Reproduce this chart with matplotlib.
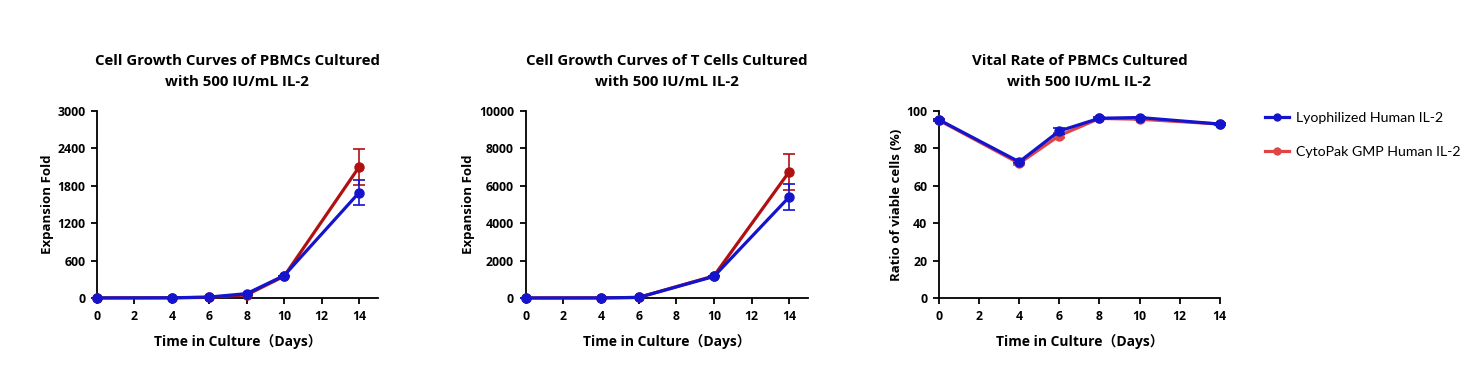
import numpy as np
import matplotlib.pyplot as plt
from matplotlib.lines import Line2D

# =============================================================================
# DATA
# =============================================================================

days = [0, 4, 6, 8, 10, 14]

# PBMC expansion fold
pbmc_lyo = [1, 3, 15, 70, 360, 1690]
pbmc_lyo_err = [0, 0, 0, 0, 0, 200]
pbmc_gmp = [1, 3, 10, 50, 350, 2100]
pbmc_gmp_err = [0, 0, 0, 0, 0, 290]

# T cell expansion fold
tcell_days = [0, 4, 6, 10, 14]
tcell_lyo = [1, 5, 30, 1150, 5400]
tcell_lyo_err = [0, 0, 0, 0, 670]
tcell_gmp = [1, 5, 30, 1180, 6750]
tcell_gmp_err = [0, 0, 0, 0, 950]

# viability (%)
vital_lyo = [95.3, 72.8, 89.3, 96.1, 96.5, 93.0]
vital_lyo_err = [0.5, 0.8, 1.5, 0.5, 0.5, 0.4]
vital_gmp = [95.0, 72.0, 86.8, 96.0, 95.6, 93.0]
vital_gmp_err = [0.5, 0.8, 1.5, 0.5, 0.5, 0.4]

titles = [
    "Cell Growth Curves of PBMCs Cultured\nwith 500 IU/mL IL-2",
    "Cell Growth Curves of T Cells Cultured\nwith 500 IU/mL IL-2",
    "Vital Rate of PBMCs Cultured\nwith 500 IU/mL IL-2",
]
xlabel = "Time in Culture\uff08Days\uff09"
legend_labels = ["Lyophilized Human IL-2", "CytoPak GMP Human IL-2"]

# =============================================================================
# STYLE
# =============================================================================

FAM = ["Open Sans", "Noto Sans CJK SC", "DejaVu Sans"]
plt.rcParams["font.family"] = FAM

BLUE = "#1414CC"
DARK_RED = "#B01010"
LIGHT_RED = "#E04545"
LW = 2.3
MS = 6.5


def style_axis(ax, xmax, ymax, yticks, ylabel):
    ax.set_xlim(0, xmax)
    ax.set_ylim(0, ymax)
    ax.set_xticks(np.arange(0, 15, 2))
    ax.set_yticks(yticks)
    for s in ["top", "right"]:
        ax.spines[s].set_visible(False)
    for s in ["left", "bottom"]:
        ax.spines[s].set_linewidth(1.3)
    ax.tick_params(direction="out", length=4, width=1.3, labelsize=8.8, pad=4.5)
    for lab in ax.get_xticklabels() + ax.get_yticklabels():
        lab.set_fontweight("bold")
    ax.set_xlabel(xlabel, fontsize=10, fontweight="bold", labelpad=8)
    ax.set_ylabel(ylabel, fontsize=9.5, fontweight="bold", labelpad=2.5)


def draw(ax, x, y_lyo, e_lyo, y_gmp, e_gmp, red):
    ax.errorbar(x, y_gmp, yerr=e_gmp, color=red, lw=LW, marker="o", ms=MS,
                elinewidth=1.2, capsize=4, capthick=1.2, clip_on=False, zorder=3)
    ax.errorbar(x, y_lyo, yerr=e_lyo, color=BLUE, lw=LW, marker="o", ms=MS,
                elinewidth=1.2, capsize=4, capthick=1.2, clip_on=False, zorder=4)


fig = plt.figure(figsize=(14.78, 3.88), dpi=100)

ax1 = fig.add_axes([0.0656, 0.232, 0.190, 0.482])
ax2 = fig.add_axes([0.3557, 0.232, 0.191, 0.482])
ax3 = fig.add_axes([0.6353, 0.232, 0.190, 0.482])

draw(ax1, days, pbmc_lyo, pbmc_lyo_err, pbmc_gmp, pbmc_gmp_err, DARK_RED)
style_axis(ax1, 15, 3000, np.arange(0, 3001, 600), "Expansion Fold")

draw(ax2, tcell_days, tcell_lyo, tcell_lyo_err, tcell_gmp, tcell_gmp_err, DARK_RED)
style_axis(ax2, 15, 10000, np.arange(0, 10001, 2000), "Expansion Fold")

draw(ax3, days, vital_lyo, vital_lyo_err, vital_gmp, vital_gmp_err, LIGHT_RED)
style_axis(ax3, 14, 100, np.arange(0, 101, 20), "Ratio of viable cells (%)")

for ax, t in zip([ax1, ax2, ax3], titles):
    ax.set_title(t, fontsize=10.8, fontweight="bold", pad=18, linespacing=1.6)

handles = [
    Line2D([], [], color=BLUE, lw=LW, marker="o", ms=5),
    Line2D([], [], color=LIGHT_RED, lw=LW, marker="o", ms=5),
]
fig.legend(handles, legend_labels, loc="upper left",
           bbox_to_anchor=(0.847, 0.745), frameon=False,
           handlelength=1.7, handletextpad=0.55, labelspacing=1.6,
           prop={"family": ["Lato", "DejaVu Sans"], "size": 10.2})

fig.savefig("out.png", dpi=100)
